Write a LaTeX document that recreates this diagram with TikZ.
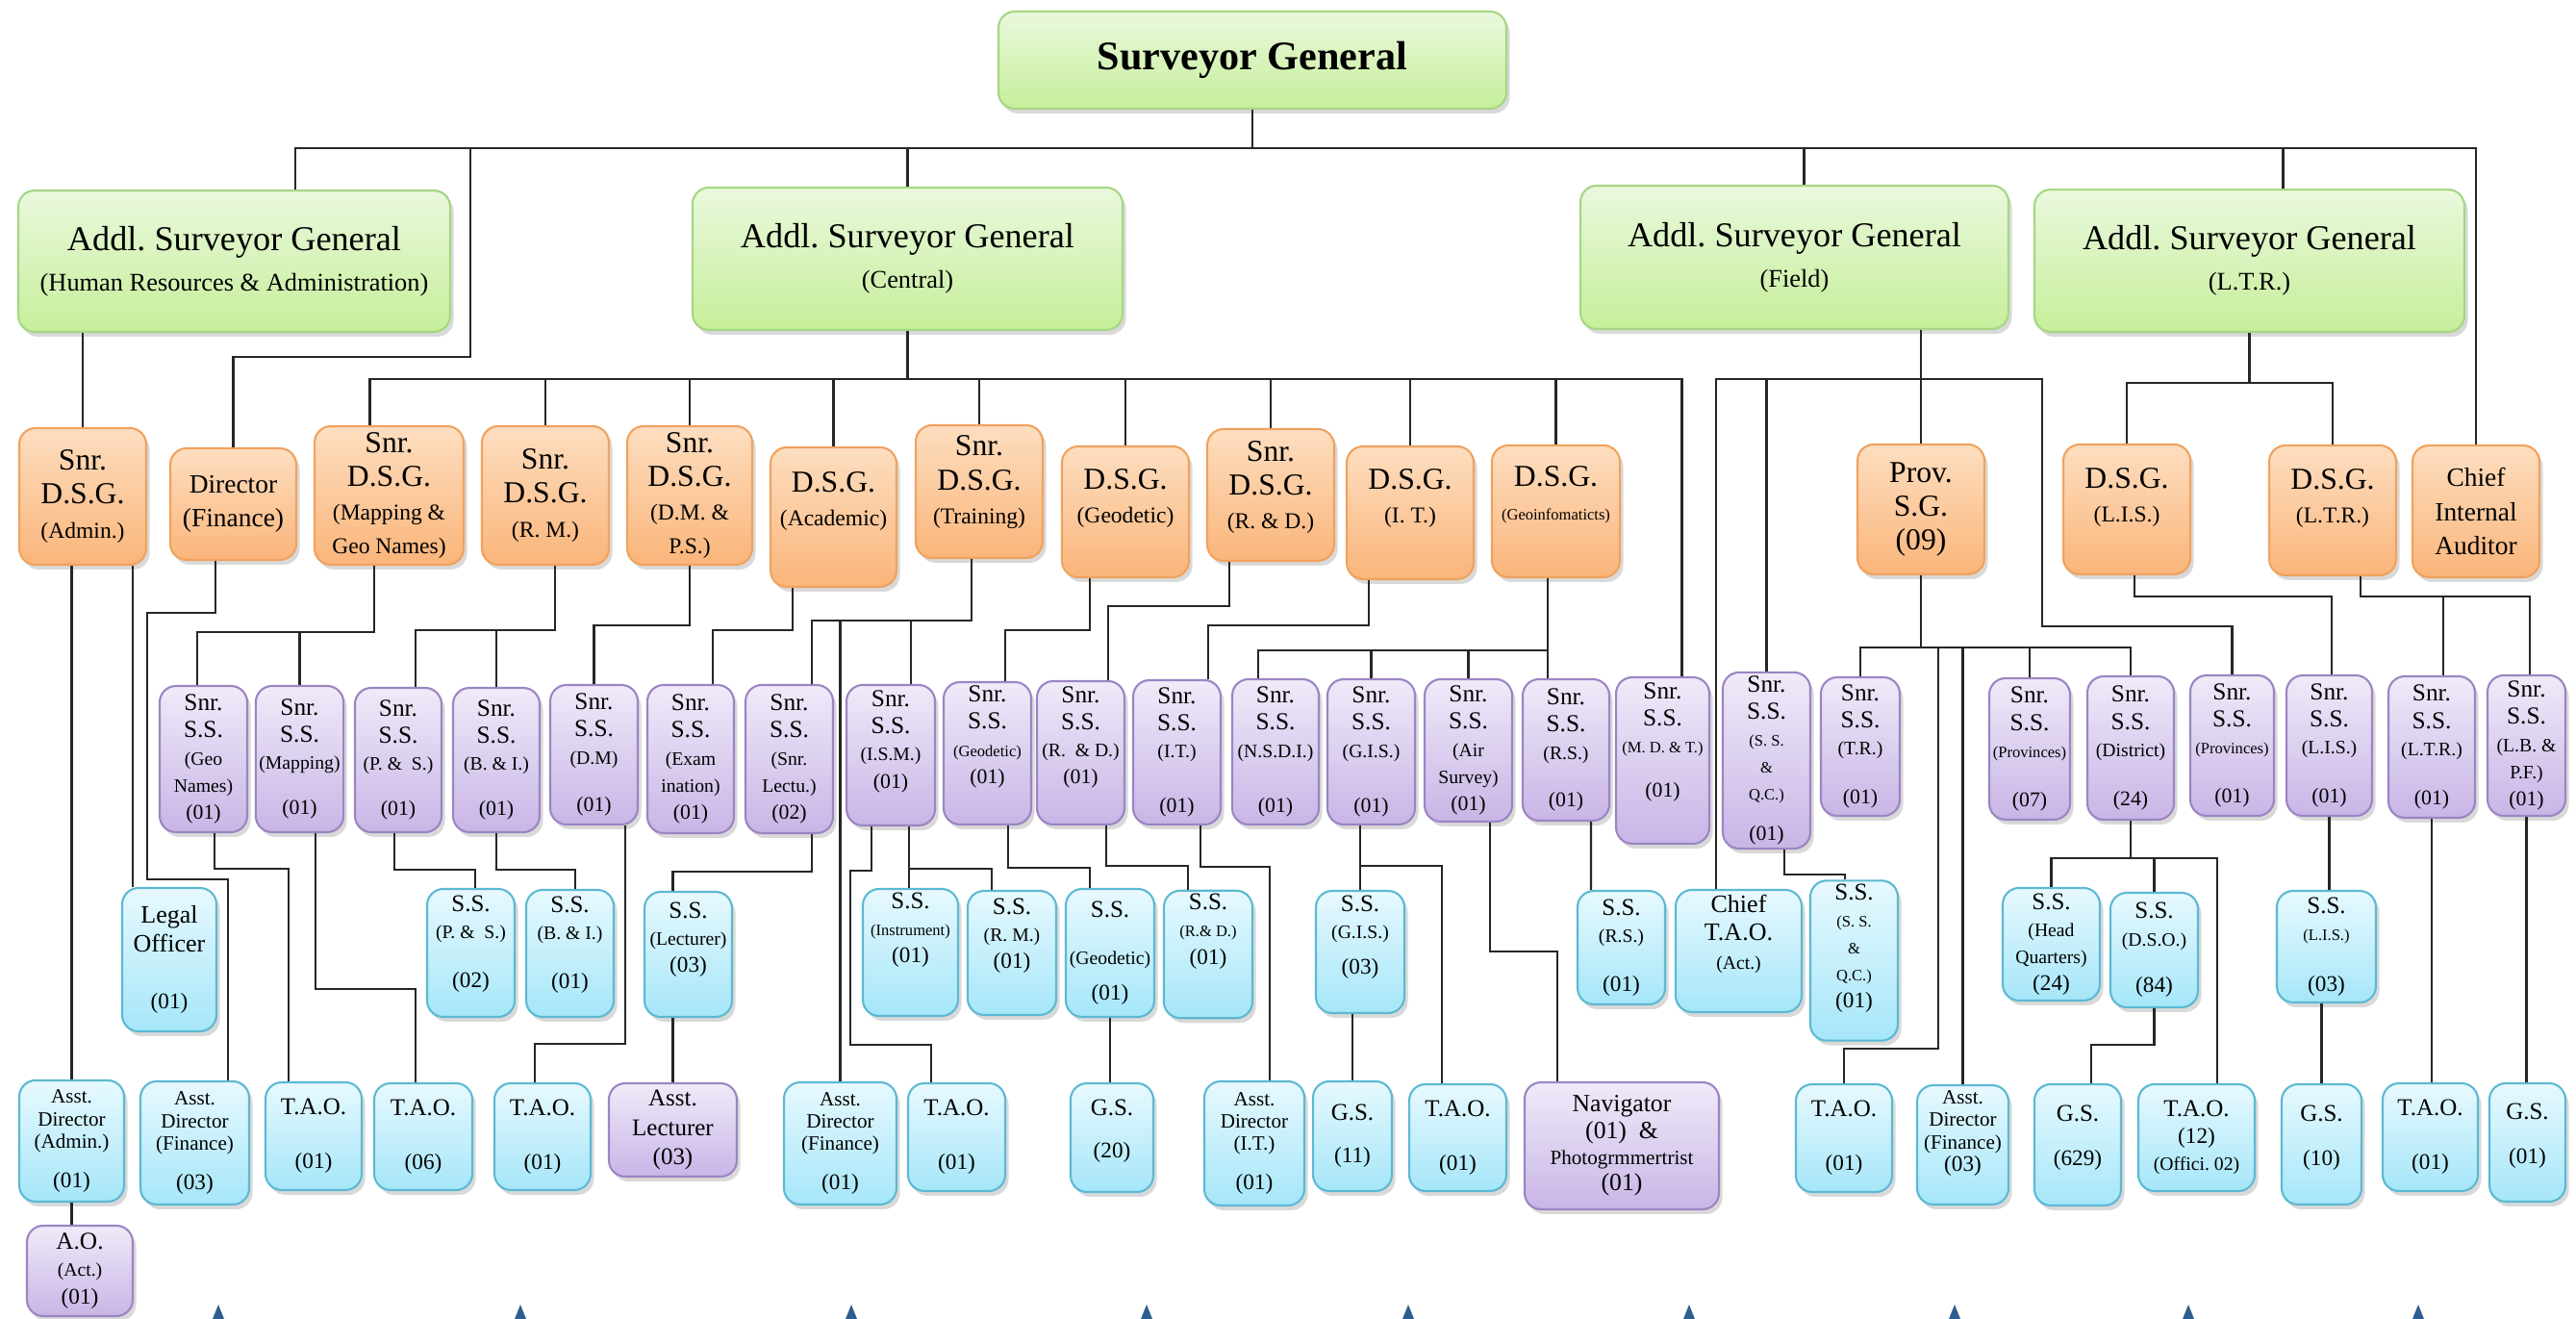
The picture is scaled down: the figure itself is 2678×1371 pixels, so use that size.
\documentclass[tikz,border=0pt]{standalone}
\usepackage{fontspec}
\setmainfont{Liberation Serif}
\usetikzlibrary{shadows}
\usepackage{xcolor}
\definecolor{greenTop}{RGB}{234, 248, 221}
\definecolor{greenBot}{RGB}{198, 239, 154}
\definecolor{greenLine}{RGB}{165, 214, 132}
\definecolor{orangeTop}{RGB}{253, 222, 192}
\definecolor{orangeBot}{RGB}{250, 181, 122}
\definecolor{orangeLine}{RGB}{240, 162, 95}
\definecolor{purpleTop}{RGB}{240, 234, 249}
\definecolor{purpleBot}{RGB}{200, 181, 230}
\definecolor{purpleLine}{RGB}{155, 133, 195}
\definecolor{cyanTop}{RGB}{231, 249, 254}
\definecolor{cyanBot}{RGB}{165, 230, 249}
\definecolor{cyanLine}{RGB}{92, 185, 211}
\definecolor{tipBlue}{RGB}{47, 95, 143}
\newcommand{\gsub}{\fontsize{7.5}{12.2}\selectfont}
\newcommand{\osub}{\fontsize{6.7}{8.6}\selectfont}
\newcommand{\otiny}{\fontsize{4.7}{7}\selectfont}
\newcommand{\omid}{\fontsize{7.8}{10}\selectfont}
\newcommand{\psub}{\fontsize{5.6}{6.6}\selectfont}
\newcommand{\ptiny}{\fontsize{4.7}{6}\selectfont}
\newcommand{\pcnt}{\fontsize{6.2}{7.4}\selectfont}
\newcommand{\ccnt}{\fontsize{6.6}{7.6}\selectfont}
\newcommand{\csm}{\fontsize{6}{6.6}\selectfont}
\newcommand{\lift}[1]{\\[\dimexpr#1-\baselineskip\relax]\mbox{}}
\tikzset{
  sz/.style 2 args={minimum width=#1*0.01cm, minimum height=#2*0.01cm}
}

\begin{document}
\begin{tikzpicture}[
    x=0.01cm, y=-0.01cm,
    office/.style={
        rounded corners=0.17cm,
        align=center,
        inner sep=1pt,
        line width=0.6pt,
        drop shadow={opacity=0.3, shadow xshift=0.035cm, shadow yshift=-0.05cm}
    },
    gbox/.style={office, draw=greenLine, top color=greenTop, bottom color=greenBot,
        font=\fontsize{10.3}{12}\selectfont},
    obox/.style={office, draw=orangeLine, top color=orangeTop, bottom color=orangeBot,
        font=\fontsize{9}{10}\selectfont},
    pbox/.style={office, draw=purpleLine, top color=purpleTop, bottom color=purpleBot,
        font=\fontsize{7.2}{8}\selectfont},
    cbox/.style={office, draw=cyanLine, top color=cyanTop, bottom color=cyanBot,
        font=\fontsize{7.1}{8}\selectfont},
    link/.style={line width=0.6pt, black!85}
]
\useasboundingbox (0,0) rectangle (2678,1371);

% Surveyor General
\node[gbox, sz={528}{101}, font=\fontsize{12}{14}\selectfont\bfseries] (sg) at (1302,62.5) {Surveyor General};

% Additional Surveyors General
\node[gbox, sz={449}{147}] (asgHR) at (243.5,271.5) {Addl.\ Surveyor General\\\gsub (Human Resources \& Administration)};
\node[gbox, sz={447}{148}] (asgC) at (943.5,269) {Addl.\ Surveyor General\\\gsub (Central)};
\node[gbox, sz={445}{149}] (asgF) at (1865.5,267.5) {Addl.\ Surveyor General\\\gsub (Field)};
\node[gbox, sz={447}{148}] (asgL) at (2338.5,271) {Addl.\ Surveyor General\\\gsub (L.T.R.)};

% Deputy Surveyors General
\node[obox, sz={132}{142}] (dsgAdm) at (86,516) {Snr.\\D.S.G.\\\osub (Admin.)};
\node[obox, sz={131}{116}, font=\omid] (dirFin) at (242.5,524) {Director\\(Finance)};
\node[obox, sz={155}{144}] (dsgMap) at (404.5,515) {Snr.\\D.S.G.\\\osub (Mapping \&\\\osub Geo Names)};
\node[obox, sz={132}{144}] (dsgRM) at (567,515) {Snr.\\D.S.G.\\\osub (R. M.)};
\node[obox, sz={130}{144}] (dsgDM) at (717,515) {Snr.\\D.S.G.\\\osub (D.M. \&\\\osub P.S.)};
\node[obox, sz={131}{145}] (dsgAc) at (866.5,537.5) {D.S.G.\\\osub (Academic)\lift{11pt}};
\node[obox, sz={132}{138}] (dsgTr) at (1018,511) {Snr.\\D.S.G.\\\osub (Training)\lift{7pt}};
\node[obox, sz={132}{136}] (dsgGeo) at (1170,532) {D.S.G.\\\osub (Geodetic)\lift{9.4pt}};
\node[obox, sz={132}{137}] (dsgRD) at (1321,514.5) {Snr.\\D.S.G.\\\osub (R. \& D.)\lift{6pt}};
\node[obox, sz={132}{138}] (dsgIT) at (1466,533) {D.S.G.\\\osub (I. T.)\lift{10pt}};
\node[obox, sz={133}{137}] (dsgGI) at (1617.5,531.5) {D.S.G.\\\otiny (Geoinfomaticts)\lift{10.8pt}};
\node[obox, sz={132}{135}] (provSG) at (1997,529.5) {Prov.\\S.G.\\(09)};
\node[obox, sz={132}{135}] (dsgLIS) at (2211,529.5) {D.S.G.\\\osub (L.I.S.)\lift{8.6pt}};
\node[obox, sz={132}{135}] (dsgLTR) at (2425,530.5) {D.S.G.\\\osub (L.T.R.)\lift{8.6pt}};
\node[obox, sz={132}{137}, font=\fontsize{7.8}{10.2}\selectfont] (cia) at (2574,531.5) {Chief\\Internal\\Auditor};

% Senior Superintendents of Surveys
\node[pbox, sz={91}{152}] (ssGeoN) at (211.5,789) {Snr.\\S.S.\\\psub (Geo\\\psub Names)\\\pcnt (01)};
\node[pbox, sz={91}{152}] (ssMap) at (311.5,789) {Snr.\\S.S.\\\psub (Mapping)\\[5.5pt]\pcnt (01)};
\node[pbox, sz={90}{150}] (ssPS) at (414,790) {Snr.\\S.S.\\\psub (P. \&~~S.)\\[5.5pt]\pcnt (01)};
\node[pbox, sz={90}{150}] (ssBI) at (516,790) {Snr.\\S.S.\\\psub (B. \& I.)\\[5.5pt]\pcnt (01)};
\node[pbox, sz={91}{145}] (ssDM) at (617.5,784.5) {Snr.\\S.S.\\\psub (D.M)\\[6pt]\pcnt (01)};
\node[pbox, sz={90}{154}] (ssExam) at (718,789) {Snr.\\S.S.\\\psub (Exam\\\psub ination)\\\pcnt (01)};
\node[pbox, sz={91}{154}] (ssLect) at (820.5,789) {Snr.\\S.S.\\\psub (Snr.\\\psub Lectu.)\\\pcnt (02)};
\node[pbox, sz={92}{146}] (ssISM) at (926,785) {Snr.\\S.S.\\\psub (I.S.M.)\\\pcnt (01)\lift{9.4pt}};
\node[pbox, sz={91}{148}] (ssGeod) at (1026.5,783) {Snr.\\S.S.\\\ptiny (Geodetic)\\\pcnt (01)\lift{11pt}};
\node[pbox, sz={91}{149}] (ssRD) at (1123.5,782.5) {Snr.\\S.S.\\\psub (R.~~\& D.)\\\pcnt (01)\lift{10.6pt}};
\node[pbox, sz={91}{150}] (ssIT) at (1223.5,782) {Snr.\\S.S.\\\psub (I.T.)\\[8.3pt]\pcnt (01)};
\node[pbox, sz={90}{151}] (ssNSDI) at (1326,781.5) {Snr.\\S.S.\\\psub (N.S.D.I.)\\[8.3pt]\pcnt (01)};
\node[pbox, sz={91}{151}] (ssGIS) at (1425.5,781.5) {Snr.\\S.S.\\\psub (G.I.S.)\\[8.3pt]\pcnt (01)};
\node[pbox, sz={91}{148}] (ssAir) at (1526.5,780) {Snr.\\S.S.\\\psub (Air\\\psub Survey)\\\pcnt (01)};
\node[pbox, sz={90}{147}] (ssRS) at (1628,779.5) {Snr.\\S.S.\\\psub (R.S.)\\[6pt]\pcnt (01)};
\node[pbox, sz={97}{173}] (ssMDT) at (1728.5,790.5) {Snr.\\S.S.\\\ptiny (M. D. \& T.)\\[5pt]\pcnt (01)\lift{12.2pt}};
\node[pbox, sz={91}{173}] (ssSSQC) at (1836.5,790.5) {Snr.\\S.S.\\\ptiny (S. S.\\\ptiny\&\\\ptiny Q.C.)\\[4pt]\pcnt (01)};
\node[pbox, sz={82}{144}] (ssTR) at (1934,776) {Snr.\\S.S.\\\psub (T.R.)\\[6.5pt]\pcnt (01)};
\node[pbox, sz={84}{147}] (ssProv7) at (2110,778.5) {Snr.\\S.S.\\\ptiny (Provinces)\\[6.5pt]\pcnt (07)};
\node[pbox, sz={90}{149}] (ssDist) at (2215,777.5) {Snr.\\S.S.\\\psub (District)\\[6.5pt]\pcnt (24)};
\node[pbox, sz={87}{146}] (ssProv1) at (2320.5,775) {Snr.\\S.S.\\\ptiny (Provinces)\\[6.5pt]\pcnt (01)};
\node[pbox, sz={89}{146}] (ssLIS) at (2421.5,775) {Snr.\\S.S.\\\psub (L.I.S.)\\[6.5pt]\pcnt (01)};
\node[pbox, sz={90}{147}] (ssLTR) at (2528,776.5) {Snr.\\S.S.\\\psub (L.T.R.)\\[6.5pt]\pcnt (01)};
\node[pbox, sz={81}{146}] (ssLBPF) at (2626.5,775) {Snr.\\S.S.\\\psub (L.B. \&\\\psub P.F.)\\\pcnt (01)};

% Superintendents and officers
\node[cbox, sz={98}{149}, font=\fontsize{7.4}{8.6}\selectfont] (legal) at (176,997.5) {Legal\\Officer\\[8pt]\ccnt (01)};
\node[cbox, sz={91}{133}] (sPS) at (489.5,990.5) {S.S.\\\psub (P. \&~~S.)\\[6.5pt]\ccnt (02)\lift{6.6pt}};
\node[cbox, sz={91}{132}] (sBI) at (592.5,991) {S.S.\\\psub (B. \& I.)\\[6.5pt]\ccnt (01)\lift{6.6pt}};
\node[cbox, sz={91}{130}] (sLect) at (715.5,992) {S.S.\\\psub (Lecturer)\\\ccnt (03)\lift{10.2pt}};
\node[cbox, sz={99}{132}] (sInst) at (946.5,990) {S.S.\\\ptiny (Instrument)\\\ccnt (01)\lift{14.8pt}};
\node[cbox, sz={92}{129}] (sRM) at (1052,990.5) {S.S.\\\psub (R. M.)\\\ccnt (01)\lift{11.4pt}};
\node[cbox, sz={92}{133}] (sGeod) at (1154,990.5) {S.S.\\[6pt]\psub (Geodetic)\\[2.5pt]\ccnt (01)};
\node[cbox, sz={92}{132}] (sRD) at (1256,992) {S.S.\\\ptiny (R.\& D.)\\\ccnt (01)\lift{15pt}};
\node[cbox, sz={92}{127}] (sGIS) at (1414,989.5) {S.S.\\\psub (G.I.S.)\\[2.5pt]\ccnt (03)\lift{10pt}};
\node[cbox, sz={91}{118}] (sRS) at (1685.5,985) {S.S.\\\psub (R.S.)\\[6.5pt]\ccnt (01)};
\node[cbox, sz={131}{127}, font=\fontsize{7.4}{8.4}\selectfont] (ctao) at (1807.5,988.5) {Chief\\T.A.O.\\\psub (Act.)\lift{11.4pt}};
\node[cbox, sz={91}{147}] (sSSQC) at (1927.5,998.5) {S.S.\\\ptiny (S. S.\\\ptiny\&\\\ptiny Q.C.)\\\ccnt (01)\lift{8.6pt}};
\node[cbox, sz={101}{117}] (sHQ) at (2132.5,981.5) {S.S.\\\psub (Head\\\psub Quarters)\\\ccnt (24)};
\node[cbox, sz={91}{119}] (sDSO) at (2239.5,987.5) {S.S.\\\psub (D.S.O.)\\[5.8pt]\ccnt (84)};
\node[cbox, sz={103}{116}] (sLIS) at (2418.5,984) {S.S.\\\ptiny (L.I.S.)\\[7pt]\ccnt (03)};

% Lowest level
\node[cbox, sz={109}{126}, font=\csm] (adAdm) at (74.5,1186) {Asst.\\Director\\(Admin.)\\[5pt]\ccnt (01)};
\node[pbox, sz={110}{94}] (ao) at (83,1321) {A.O.\\\psub (Act.)\\\ccnt (01)};
\node[cbox, sz={113}{128}, font=\csm] (adFin3) at (202.5,1188) {Asst.\\Director\\(Finance)\\[5pt]\ccnt (03)};
\node[cbox, sz={100}{112}] (tao1a) at (326,1181) {T.A.O.\\[8pt]\ccnt (01)};
\node[cbox, sz={102}{111}] (tao6) at (440,1181.5) {T.A.O.\\[8pt]\ccnt (06)};
\node[cbox, sz={100}{111}] (tao1b) at (564,1181.5) {T.A.O.\\[8pt]\ccnt (01)};
\node[pbox, sz={133}{97}, font=\fontsize{7.1}{8.6}\selectfont] (aLect) at (699.5,1174.5) {Asst.\\Lecturer\\(03)};
\node[cbox, sz={117}{127}, font=\csm] (adFin1) at (873.5,1188.5) {Asst.\\Director\\(Finance)\\[5pt]\ccnt (01)};
\node[cbox, sz={101}{112}] (tao1c) at (994.5,1182) {T.A.O.\\[8pt]\ccnt (01)};
\node[cbox, sz={86}{113}] (gs20) at (1156,1182.5) {G.S.\\[4.5pt]\ccnt (20)\lift{5.4pt}};
\node[cbox, sz={104}{129}, font=\csm] (adIT) at (1304,1188.5) {Asst.\\Director\\(I.T.)\\[5pt]\ccnt (01)};
\node[cbox, sz={82}{114}] (gs11) at (1406,1181) {G.S.\\[4.4pt]\ccnt (11)};
\node[cbox, sz={101}{111}] (tao1d) at (1515.5,1182.5) {T.A.O.\\[8pt]\ccnt (01)};
\node[pbox, sz={202}{132}, font=\fontsize{7.3}{7.8}\selectfont] (nav) at (1686,1191) {Navigator\\(01)~~\&\\\csm Photogrmmertrist\\(01)};
\node[cbox, sz={100}{112}] (tao1e) at (1917,1183) {T.A.O.\\[8pt]\ccnt (01)};
\node[cbox, sz={95}{124}, font=\csm] (adFin3b) at (2040.5,1190) {Asst.\\Director\\(Finance)\\\ccnt (03)\lift{8.2pt}};
\node[cbox, sz={90}{126}] (gs629) at (2160,1190) {G.S.\\[5pt]\ccnt (629)\lift{5.4pt}};
\node[cbox, sz={121}{111}] (tao12) at (2283.5,1182.5) {T.A.O.\\\ccnt (12)\\\psub (Offici.\ 02)};
\node[cbox, sz={83}{125}] (gs10) at (2413.5,1189.5) {G.S.\\[5pt]\ccnt (10)\lift{5.4pt}};
\node[cbox, sz={99}{112}] (tao1f) at (2526.5,1182) {T.A.O.\\[8pt]\ccnt (01)};
\node[cbox, sz={79}{123}] (gs01) at (2627.5,1187.5) {G.S.\\[5pt]\ccnt (01)\lift{5.4pt}};

% Top level links
\coordinate (topbus) at (1302,154);
\coordinate (finTap) at (489,154);
\draw[link] (sg.south) -- (topbus);
\draw[link] ([xshift=0.635cm]asgHR.north) |- (topbus) -| (cia.north);
\draw[link] (asgC.north) -- (asgC.north |- topbus);
\draw[link] ([xshift=0.1cm]asgF.north) -- ([xshift=0.1cm]asgF.north |- topbus);
\draw[link] ([xshift=0.35cm]asgL.north) -- ([xshift=0.35cm]asgL.north |- topbus);
\draw[link] (finTap) -- ++(0,217) -| (dirFin.north);
\draw[link] (dsgAdm.north |- asgHR.south) -- (dsgAdm.north);

% Central
\draw[link] (asgC.south) -- ++(0,50) coordinate (cbus);
\draw[link] ([xshift=-0.2cm]dsgMap.north) |- (cbus) -| ([xshift=0.2cm]ssMDT.north);
\foreach \n in {dsgRM,dsgDM,dsgAc,dsgTr,dsgGeo,dsgRD,dsgIT,dsgGI}
  \draw[link] (\n.north |- cbus) -- (\n.north);

% Field
\draw[link] (provSG.north |- asgF.south) -- ++(0,51) coordinate (fbus) -- (provSG.north);
\draw[link] ([xshift=-0.235cm]ctao.north) |- (fbus) -- ++(126,0) -- ++(0,257) -| (ssProv1.north);
\draw[link] (ssSSQC.north) -- (ssSSQC.north |- fbus);

% L.T.R.
\draw[link] (asgL.south) -- ++(0,52) coordinate (lbus);
\draw[link] (dsgLIS.north) |- (lbus) -| (dsgLTR.north);

% Administration
\draw[link] (adAdm.north |- dsgAdm.south) -- (adAdm.north);
\draw[link] ([xshift=-0.38cm]legal.north |- dsgAdm.south) -- ([xshift=-0.38cm]legal.north);
\draw[link] (adAdm.south) -- (adAdm.south |- ao.north);
\draw[link] ([xshift=-0.185cm]dirFin.south) -- ++(0,54) -| ++(-71,277) -| ([xshift=0.345cm]adFin3.north);

% Deputy to senior superintendent
\draw[link] ([xshift=-0.155cm]dsgMap.south) -- ++(0,69) coordinate (mapBus) -| ([xshift=-0.065cm]ssGeoN.north);
\draw[link] (ssMap.north) -- (ssMap.north |- mapBus);
\draw[link] ([xshift=0.1cm]dsgRM.south) -- ++(0,67) coordinate (rmBus) -| ([xshift=0.18cm]ssPS.north);
\draw[link] (ssBI.north) -- (ssBI.north |- rmBus);
\draw[link] (dsgDM.south) -- ++(0,62) -| (ssDM.north);
\draw[link] ([xshift=-0.425cm]dsgAc.south) -- ++(0,44) -| ([xshift=0.23cm]ssExam.north);
\draw[link] ([xshift=-0.08cm]dsgTr.south) -- ++(0,64) coordinate (trBus) -| ([xshift=0.235cm]ssLect.north);
\draw[link] ([xshift=0.21cm]ssISM.north) -- ([xshift=0.21cm]ssISM.north |- trBus);
\draw[link] (adFin1.north |- trBus) -- (adFin1.north);
\draw[link] ([xshift=-0.37cm]dsgGeo.south) -- ++(0,54) -| ([xshift=0.185cm]ssGeod.north);
\draw[link] ([xshift=-0.43cm]dsgRD.south) -- ++(0,46) -| ([xshift=0.285cm]ssRD.north);
\draw[link] ([xshift=-0.43cm]dsgIT.south) -- ++(0,47) -| ([xshift=0.325cm]ssIT.north);
\draw[link] ([xshift=-0.085cm]dsgGI.south) -- ++(0,75) coordinate (giBus) -- (giBus |- ssRS.north);
\draw[link] (giBus) -| ([xshift=-0.18cm]ssNSDI.north);
\draw[link] (ssGIS.north) -- (ssGIS.north |- giBus);
\draw[link] (ssAir.north) -- (ssAir.north |- giBus);
\draw[link] (provSG.south) -- ++(0,75) coordinate (pBus);
\draw[link] (ssTR.north) |- (pBus) -| (ssDist.north);
\draw[link] (ssProv7.north) -- (ssProv7.north |- pBus);
\draw[link] (adFin3b.north |- pBus) -- (adFin3b.north);
\draw[link] ([xshift=0.98cm]tao1e.north |- pBus) -- ++(0,417) -| (tao1e.north);
\draw[link] ([xshift=0.08cm]dsgLIS.south) -- ++(0,22) -| ([xshift=0.025cm]ssLIS.north);
\draw[link] ([xshift=0.29cm]dsgLTR.south) -- ++(0,21) coordinate (ltrBus) -| ([xshift=0.035cm]ssLBPF.north);
\draw[link] ([xshift=0.12cm]ssLTR.north) -- ([xshift=0.12cm]ssLTR.north |- ltrBus);

% Senior superintendent to lower posts
\draw[link] ([xshift=0.115cm]ssGeoN.south) -- ++(0,37) -| ([xshift=-0.26cm]tao1a.north);
\draw[link] ([xshift=0.165cm]ssMap.south) -- ++(0,162) -| ([xshift=-0.08cm]tao6.north);
\draw[link] ([xshift=-0.04cm]ssPS.south) -- ++(0,38) -| ([xshift=0.045cm]sPS.north);
\draw[link] (ssBI.south) -- ++(0,38) -| ([xshift=0.055cm]sBI.north);
\draw[link] ([xshift=0.325cm]ssDM.south) -- ++(0,227) -| ([xshift=-0.08cm]tao1b.north);
\draw[link] ([xshift=0.235cm]ssLect.south) -- ++(0,39) -| (aLect.north |- sLect.north);
\draw[link] (aLect.north |- sLect.south) -- (aLect.north);
\draw[link] ([xshift=-0.2cm]ssISM.south) -- ++(0,46) -| ++(-22,181) -| ([xshift=-0.265cm]tao1c.north);
\draw[link] ([xshift=0.19cm]ssISM.south) -- ++(0,44) coordinate (ismBus) -| ([xshift=-0.21cm]sRM.north);
\draw[link] (ismBus) -- (ismBus |- sInst.north);
\draw[link] ([xshift=0.215cm]ssGeod.south) -- ++(0,44) -| ([xshift=-0.21cm]sGeod.north);
\draw[link] (sGeod.south) -- (sGeod.south |- gs20.north);
\draw[link] ([xshift=0.265cm]ssRD.south) -- ++(0,42) -| ([xshift=-0.21cm]sRD.north);
\draw[link] ([xshift=0.245cm]ssIT.south) -- ++(0,43) -| ([xshift=0.16cm]adIT.north);
\draw[link] (sGIS.north |- ssGIS.south) -- ++(0,42) coordinate (gisBus) -- (sGIS.north);
\draw[link] (gisBus) -| ([xshift=-0.165cm]tao1d.north);
\draw[link] (gs11.north |- sGIS.south) -- (gs11.north);
\draw[link] ([xshift=0.225cm]ssAir.south) -- ++(0,134) -| ([xshift=-0.67cm]nav.north);
\draw[link] ([xshift=0.26cm]ssRS.south) -- ([xshift=-0.315cm]sRS.north);
\draw[link] ([xshift=0.185cm]ssSSQC.south) -- ++(0,26) -| ([xshift=-0.095cm]sSSQC.north);
\draw[link] (ssDist.south) -- ++(0,39) coordinate (dBus);
\draw[link] (sHQ.north) |- (dBus) -| ([xshift=0.215cm]tao12.north);
\draw[link] (sDSO.north) -- (sDSO.north |- dBus);
\draw[link] (sDSO.south) -- ++(0,38) -| ([xshift=0.14cm]gs629.north);
\draw[link] (ssLIS.south) -- (ssLIS.south |- sLIS.north);
\draw[link] (gs10.north |- sLIS.south) -- (gs10.north);
\draw[link] (ssLTR.south) -- (ssLTR.south |- tao1f.north);
\draw[link] (ssLBPF.south) -- (ssLBPF.south |- gs01.north);

% Small markers along the lower edge
\foreach \x in {227,541,885,1192,1464,1756,2032,2275,2514}
  \fill[tipBlue] (\x-6,1371) -- (\x,1356) -- (\x+6,1371) -- cycle;

\end{tikzpicture}
\end{document}
